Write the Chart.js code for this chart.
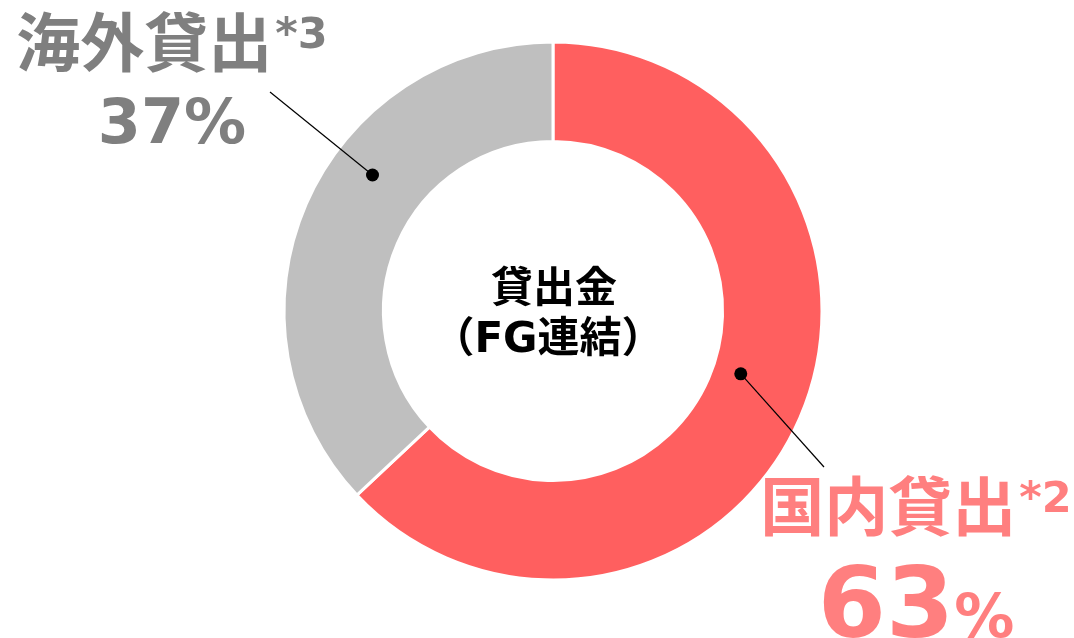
<!DOCTYPE html>
<html>
<head>
<meta charset="utf-8">
<script src="https://cdn.jsdelivr.net/npm/chart.js@4/dist/chart.umd.min.js"></script>
<style>
  html, body { margin: 0; padding: 0; background: #fff; }
  #wrap { width: 1074px; height: 638px; position: relative; }
</style>
</head>
<body>
<div id="wrap"><canvas id="c"></canvas></div>
<script>
// ── DATA ──
const labels = ['国内貸出', '海外貸出'];
const notes = ['*2', '*3'];
const shares = [63, 37];
const centerLines = ['貸出金', '（FG連結）'];

const segColors = ['#FF5F5F', '#BFBFBF'];
const textColors = ['#FF7F7F', '#7F7F7F'];
const FONT = '"DejaVu Sans", "Noto Sans CJK JP", sans-serif';

// callout layout per segment: label centre, leader end, dot angle / radius
const callouts = [
  { cx: 916, nameY: 530, pctY: 637, pctSize: 98, pctSign: 60, lineTo: [824, 467], ang: 108.5, rad: 198 },
  { cx: 172, nameY: 66, pctY: 143, pctSize: 62, pctSign: 62, lineTo: [270, 92], ang: 307, rad: 226 }
];

const calloutPlugin = {
  id: 'callouts',
  afterDraw(chart) {
    const ctx = chart.ctx;
    const arc = chart.getDatasetMeta(0).data[0];
    const ox = arc.x, oy = arc.y;

    // centre text
    ctx.save();
    ctx.fillStyle = '#000';
    ctx.textAlign = 'center';
    ctx.textBaseline = 'alphabetic';
    ctx.font = 'bold 42px ' + FONT;
    ctx.fillText(centerLines[0], ox + 1, 302);
    ctx.fillText(centerLines[1], ox - 5, 352);
    ctx.restore();

    callouts.forEach((c, i) => {
      ctx.save();
      // leader line + dot
      const a = c.ang * Math.PI / 180;
      const dx = ox + c.rad * Math.sin(a), dy = oy - c.rad * Math.cos(a);
      ctx.strokeStyle = '#000';
      ctx.lineWidth = 1.2;
      ctx.beginPath();
      ctx.moveTo(dx, dy);
      ctx.lineTo(c.lineTo[0], c.lineTo[1]);
      ctx.stroke();
      ctx.fillStyle = '#000';
      ctx.beginPath();
      ctx.arc(dx, dy, 6.5, 0, Math.PI * 2);
      ctx.fill();

      // name + note
      ctx.fillStyle = textColors[i];
      ctx.textBaseline = 'alphabetic';
      ctx.textAlign = 'left';
      ctx.font = 'bold 64px ' + FONT;
      const w1 = ctx.measureText(labels[i]).width;
      ctx.font = 'bold 43px ' + FONT;
      const w2 = ctx.measureText(notes[i]).width;
      let x = c.cx - (w1 + w2 + 3) / 2;
      ctx.font = 'bold 64px ' + FONT;
      ctx.fillText(labels[i], x, c.nameY);
      ctx.font = 'bold 43px ' + FONT;
      ctx.fillText(notes[i], x + w1 + 3, c.nameY - 18);

      // percentage
      const num = String(shares[i]);
      ctx.font = 'bold ' + c.pctSize + 'px ' + FONT;
      const wn = ctx.measureText(num).width;
      ctx.font = 'bold ' + c.pctSign + 'px ' + FONT;
      const wp = ctx.measureText('%').width;
      x = c.cx - (wn + wp) / 2;
      ctx.font = 'bold ' + c.pctSize + 'px ' + FONT;
      ctx.fillText(num, x, c.pctY);
      ctx.font = 'bold ' + c.pctSign + 'px ' + FONT;
      ctx.fillText('%', x + wn, c.pctY);
      ctx.restore();
    });
  }
};

new Chart(document.getElementById('c'), {
  type: 'doughnut',
  data: {
    labels: labels,
    datasets: [{
      data: shares,
      backgroundColor: segColors,
      borderColor: '#fff',
      borderWidth: 3,
      hoverOffset: 0
    }]
  },
  options: {
    responsive: true,
    maintainAspectRatio: false,
    animation: false,
    events: [],
    radius: 269,
    cutout: 168,
    layout: { padding: { left: 285, right: 253, top: 43, bottom: 59 } },
    plugins: { legend: { display: false }, tooltip: { enabled: false } }
  },
  plugins: [calloutPlugin]
});
</script>
</body>
</html>
